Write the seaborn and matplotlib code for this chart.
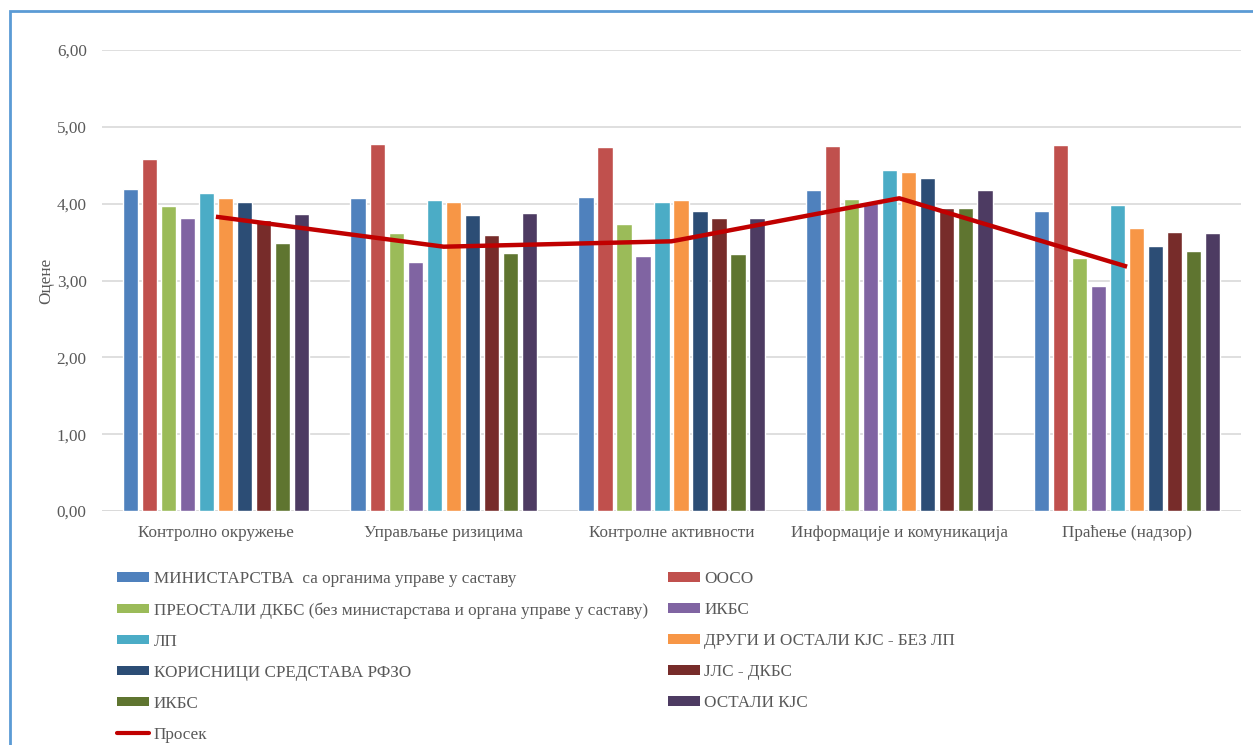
import matplotlib
matplotlib.use("Agg")
import matplotlib.pyplot as plt
from matplotlib.patches import Patch, Rectangle
from matplotlib.lines import Line2D
import seaborn as sns
import pandas as pd

categories = ["Контролно окружење", "Управљање ризицима", "Контролне активности",
              "Информације и комуникација", "Праћење (надзор)"]

series_names = [
    "МИНИСТАРСТВА  са органима управе у саставу",
    "ООСО",
    "ПРЕОСТАЛИ ДКБС (без министарстава и органа управе у саставу)",
    "ИКБС",
    "ЛП",
    "ДРУГИ И ОСТАЛИ КЈС - БЕЗ ЛП",
    "КОРИСНИЦИ СРЕДСТАВА РФЗО",
    "ЈЛС - ДКБС",
    "ИКБС",
    "ОСТАЛИ КЈС",
]

ministarstva = [4.19, 4.07, 4.09, 4.18, 3.91]
ooso = [4.58, 4.78, 4.74, 4.75, 4.77]
preostali_dkbs = [3.97, 3.62, 3.73, 4.06, 3.29]
ikbs_1 = [3.81, 3.24, 3.32, 4.01, 2.93]
lp = [4.14, 4.05, 4.02, 4.44, 3.98]
drugi_kjs = [4.07, 4.02, 4.05, 4.41, 3.68]
rfzo = [4.02, 3.85, 3.90, 4.34, 3.45]
jls_dkbs = [3.79, 3.59, 3.81, 3.94, 3.63]
ikbs_2 = [3.49, 3.36, 3.34, 3.95, 3.39]
ostali_kjs = [3.86, 3.88, 3.81, 4.18, 3.62]

prosek = [3.83, 3.44, 3.51, 4.07, 3.18]

series_values = [ministarstva, ooso, preostali_dkbs, ikbs_1, lp,
                 drugi_kjs, rfzo, jls_dkbs, ikbs_2, ostali_kjs]

colors = ["#4F81BD", "#C0504D", "#9BBB59", "#8064A2", "#4BACC6",
          "#F79646", "#2C4D75", "#772C2A", "#5F7530", "#4D3B62"]
line_color = "#C00000"
text_color = "#595959"

# long table; hue keys are indices because two groups share a name
rows = []
for i, vals in enumerate(series_values):
    for cat, v in zip(categories, vals):
        rows.append({"category": cat, "series": f"s{i}", "value": v})
df = pd.DataFrame(rows)
hue_order = [f"s{i}" for i in range(len(series_names))]
palette = dict(zip(hue_order, colors))

sns.set_theme(style="white")
plt.rcParams["font.family"] = ["Liberation Serif", "DejaVu Serif"]

fs = 12.3
fig = plt.figure(figsize=(12.53, 7.45), dpi=100)
ax = fig.add_axes([102 / 1253, 1 - 511 / 745, 1139 / 1253, 461 / 745])

sns.barplot(data=df, x="category", y="value", hue="series", hue_order=hue_order,
            order=categories, palette=palette, width=0.835, gap=0.2,
            saturation=1, legend=False, ax=ax, errorbar=None, zorder=2)
ax.plot(range(len(categories)), prosek, color=line_color, lw=3.2, zorder=3,
        solid_capstyle="butt")

ax.set_xlim(-0.5, len(categories) - 0.5)
ax.set_ylim(0, 6)
ax.set_yticks([0, 1, 2, 3, 4, 5, 6])
ax.set_yticklabels([f"{v:.2f}".replace(".", ",") for v in range(7)])
ax.yaxis.grid(True, color="#D9D9D9", lw=1.2, zorder=0)
ax.set_axisbelow(True)
for s in ax.spines.values():
    s.set_visible(False)
ax.axhline(0, color="#D9D9D9", lw=1.2, zorder=1)
ax.tick_params(axis="y", length=0, labelsize=fs, colors=text_color, pad=11)
ax.tick_params(axis="x", length=0, labelsize=fs, colors=text_color, pad=10)
ax.set_xlabel("")
ax.set_ylabel("Оцене", fontsize=fs, color=text_color, labelpad=2)

handles = []
col1 = [0, 2, 4, 6, 8]
col2 = [1, 3, 5, 7, 9]
for i in col1:
    handles.append(Patch(facecolor=colors[i], edgecolor="none", label=series_names[i]))
handles.append(Line2D([0], [0], color=line_color, lw=3, label="Просек"))
for i in col2:
    handles.append(Patch(facecolor=colors[i], edgecolor="none", label=series_names[i]))

leg = fig.legend(handles=handles, ncol=2, loc="upper left",
                 bbox_to_anchor=(117 / 1253, 1 - 571 / 745), frameon=False,
                 fontsize=fs, handlelength=1.9, handleheight=0.5,
                 handletextpad=0.25, labelspacing=0.88, columnspacing=1.15,
                 borderaxespad=0, borderpad=0)
for t in leg.get_texts():
    t.set_color(text_color)

# outer frame around the chart
fig.patches.append(Rectangle((10 / 1253, -0.1), 1.2, 1 - 11 / 745 + 0.1,
                             transform=fig.transFigure, fill=False,
                             edgecolor="#5B9BD5", lw=2, zorder=0))

fig.savefig("out.png", dpi=100)
